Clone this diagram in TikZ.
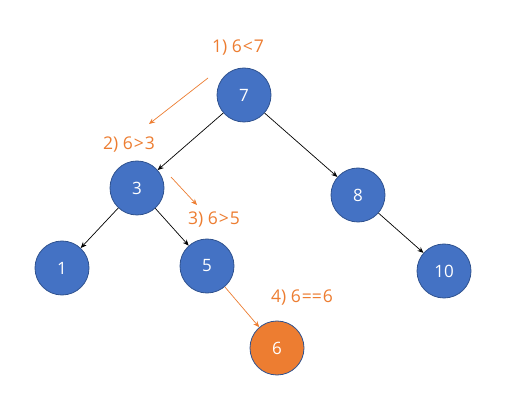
\documentclass[tikz,border=0pt]{standalone}
\usepackage{fontspec}
\setmainfont{Open Sans}
\usetikzlibrary{arrows.meta}
\definecolor{nblue}{HTML}{4472C4}
\definecolor{nborder}{HTML}{2F528F}
\definecolor{norange}{HTML}{ED7D31}
\begin{document}
\begin{tikzpicture}[x=1pt,y=-1pt,
  treenode/.style={circle,draw=nborder,line width=0.8pt,fill=nblue,minimum size=54pt,inner sep=0pt,text=white,font=\fontsize{17}{20}\selectfont},
  hitnode/.style={treenode,fill=norange},
  edge/.style={draw=black,line width=0.7pt,-{Stealth[length=6pt,width=5pt]}},
  oedge/.style={draw=norange,line width=0.7pt,-{Stealth[length=6pt,width=5pt]}},
  olabel/.style={text=norange,font=\fontsize{17.5}{20}\selectfont,inner sep=0pt}]
\useasboundingbox (0,0) rectangle (522,395);
\fill[white] (0,0) rectangle (522,395);
\node[treenode] (n7) at (244,95) {7};
\node[treenode] (n3) at (137,188) {3};
\node[treenode] (n8) at (358,195) {8};
\node[treenode] (n1) at (62,268) {1};
\node[treenode] (n5) at (207,266) {5};
\node[treenode] (n10) at (444,271) {10};
\node[hitnode] (n6) at (277,348) {6};
\draw[edge] (n7) -- (n3);
\draw[edge] (n7) -- (n8);
\draw[edge] (n3) -- (n1);
\draw[edge] (n3) -- (n5);
\draw[edge] (n8) -- (n10);
\node[olabel] (l1) at (238,48) {1)\ 6\kern1pt<\kern1pt7};
\node[olabel] (l2) at (129,145) {2)\ 6\kern1pt>\kern1pt3};
\node[olabel] (l3) at (214,220) {3)\ 6\kern1pt>\kern1pt5};
\node[olabel] (l4) at (302,298) {4)\ 6\kern1pt==\kern1pt6};
\coordinate (a1s) at (208,78);
\coordinate (a1e) at (149,124);
\coordinate (a2s) at (171,177);
\coordinate (a2e) at (197,205);
\draw[oedge] (a1s) -- (a1e);
\draw[oedge] (a2s) -- (a2e);
\draw[oedge] (n5) -- (n6);
\end{tikzpicture}
\end{document}
